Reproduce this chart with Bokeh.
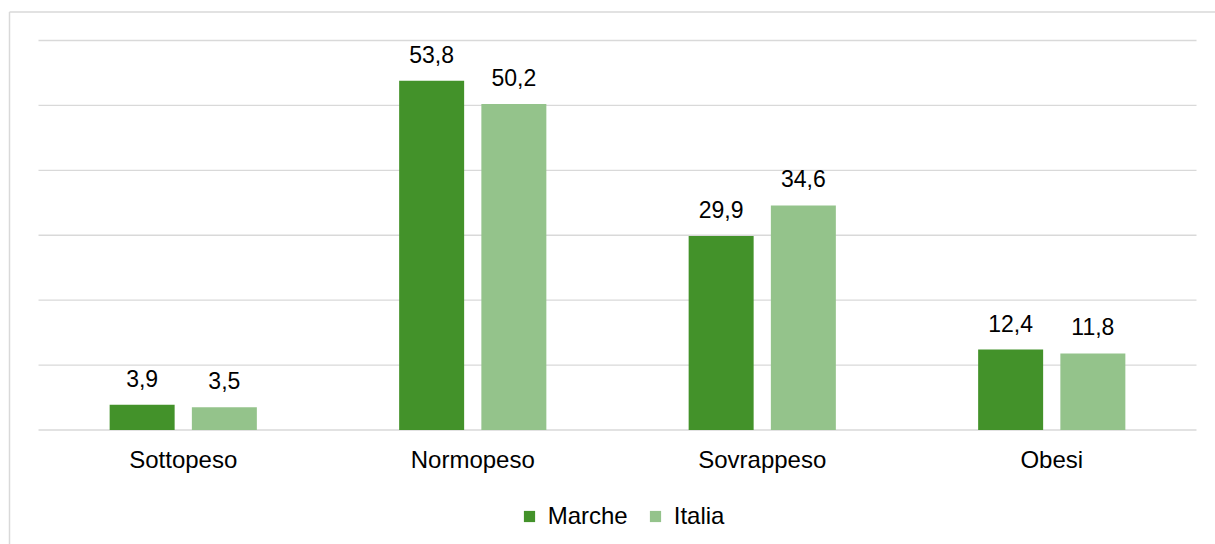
from bokeh.plotting import figure
from bokeh.models import ColumnDataSource, LabelSet, Legend, LegendItem, Range1d
from bokeh.core.properties import value
from bokeh.embed import file_html
from bokeh.resources import INLINE
import numpy as np

categories = ["Sottopeso", "Normopeso", "Sovrappeso", "Obesi"]
marche = [3.9, 53.8, 29.9, 12.4]
italia = [3.5, 50.2, 34.6, 11.8]
series_names = ["Marche", "Italia"]
colors = ["#43922a", "#94c38b"]
y_ticks = [0, 10, 20, 30, 40, 50, 60]

W, H = 1215, 544
# pixel geometry (canvas coords)
PX_LEFT, PX_RIGHT = 38.0, 1196.0      # plot area horizontal extent
PY_ZERO, PY_TOP = 429.5, 40.0         # y=0 and y=60 positions
ppu_x = (PX_RIGHT - PX_LEFT) / len(categories)
ppu_y = (PY_ZERO - PY_TOP) / y_ticks[-1]

x_start = -PX_LEFT / ppu_x
x_end = len(categories) + (W - PX_RIGHT) / ppu_x
y_end = y_ticks[-1] + PY_TOP / ppu_y
y_start = -(H - PY_ZERO) / ppu_y

p = figure(width=W, height=H, output_backend="svg", toolbar_location=None,
           x_range=Range1d(x_start, x_end), y_range=Range1d(y_start, y_end),
           min_border=0, min_border_left=0, min_border_right=0,
           min_border_top=0, min_border_bottom=0)
p.xaxis.visible = False
p.yaxis.visible = False
p.grid.visible = False
p.outline_line_color = None
p.background_fill_color = "white"
p.border_fill_color = "white"

FONT = "Liberation Sans"
FS_VAL = "23px"
FS = "24px"

# outer chart border (left and top edges)
bx = (9.0 - PX_LEFT) / ppu_x
by = y_ticks[-1] + (PY_TOP - 11.5) / ppu_y
p.segment(x0=[bx, bx], y0=[by, by], x1=[bx, x_end], y1=[y_start, by],
          line_color="#d9d9d9", line_width=1.5)

# horizontal gridlines
p.segment(x0=[0] * len(y_ticks), y0=y_ticks, x1=[len(categories)] * len(y_ticks),
          y1=y_ticks, line_color="#d9d9d9", line_width=1.3)

idx = np.arange(len(categories)) + 0.5
off = 0.142
bw = 0.2245
src_m = ColumnDataSource(dict(x=idx - off, top=marche, lab=[f"{v:.1f}".replace(".", ",") for v in marche]))
src_i = ColumnDataSource(dict(x=idx + off, top=italia, lab=[f"{v:.1f}".replace(".", ",") for v in italia]))

r_m = p.vbar(x="x", top="top", bottom=0, width=bw, source=src_m,
             fill_color=colors[0], line_color=None)
r_i = p.vbar(x="x", top="top", bottom=0, width=bw, source=src_i,
             fill_color=colors[1], line_color=None)

for src in (src_m, src_i):
    p.add_layout(LabelSet(x="x", y="top", text="lab", source=src, y_offset=18,
                          text_align="center", text_baseline="alphabetic",
                          text_font=value(FONT), text_font_size=FS_VAL,
                          text_color="#000000"))

src_c = ColumnDataSource(dict(x=idx, y=[0] * len(categories), t=categories))
p.add_layout(LabelSet(x="x", y="y", text="t", source=src_c, y_offset=-38,
                      text_align="center", text_baseline="alphabetic",
                      text_font=value(FONT), text_font_size=FS,
                      text_color="#000000"))

legend = Legend(items=[LegendItem(label=series_names[0], renderers=[r_m]),
                       LegendItem(label=series_names[1], renderers=[r_i])],
                orientation="horizontal", location=(521.7, 14),
                glyph_width=14, glyph_height=14, label_standoff=12, spacing=20,
                padding=0, margin=0, border_line_color=None,
                background_fill_alpha=0,
                label_text_font=FONT, label_text_font_size=FS,
                label_text_color="#000000")
p.add_layout(legend, "center")

open("out.html", "w").write(file_html(p, INLINE))
